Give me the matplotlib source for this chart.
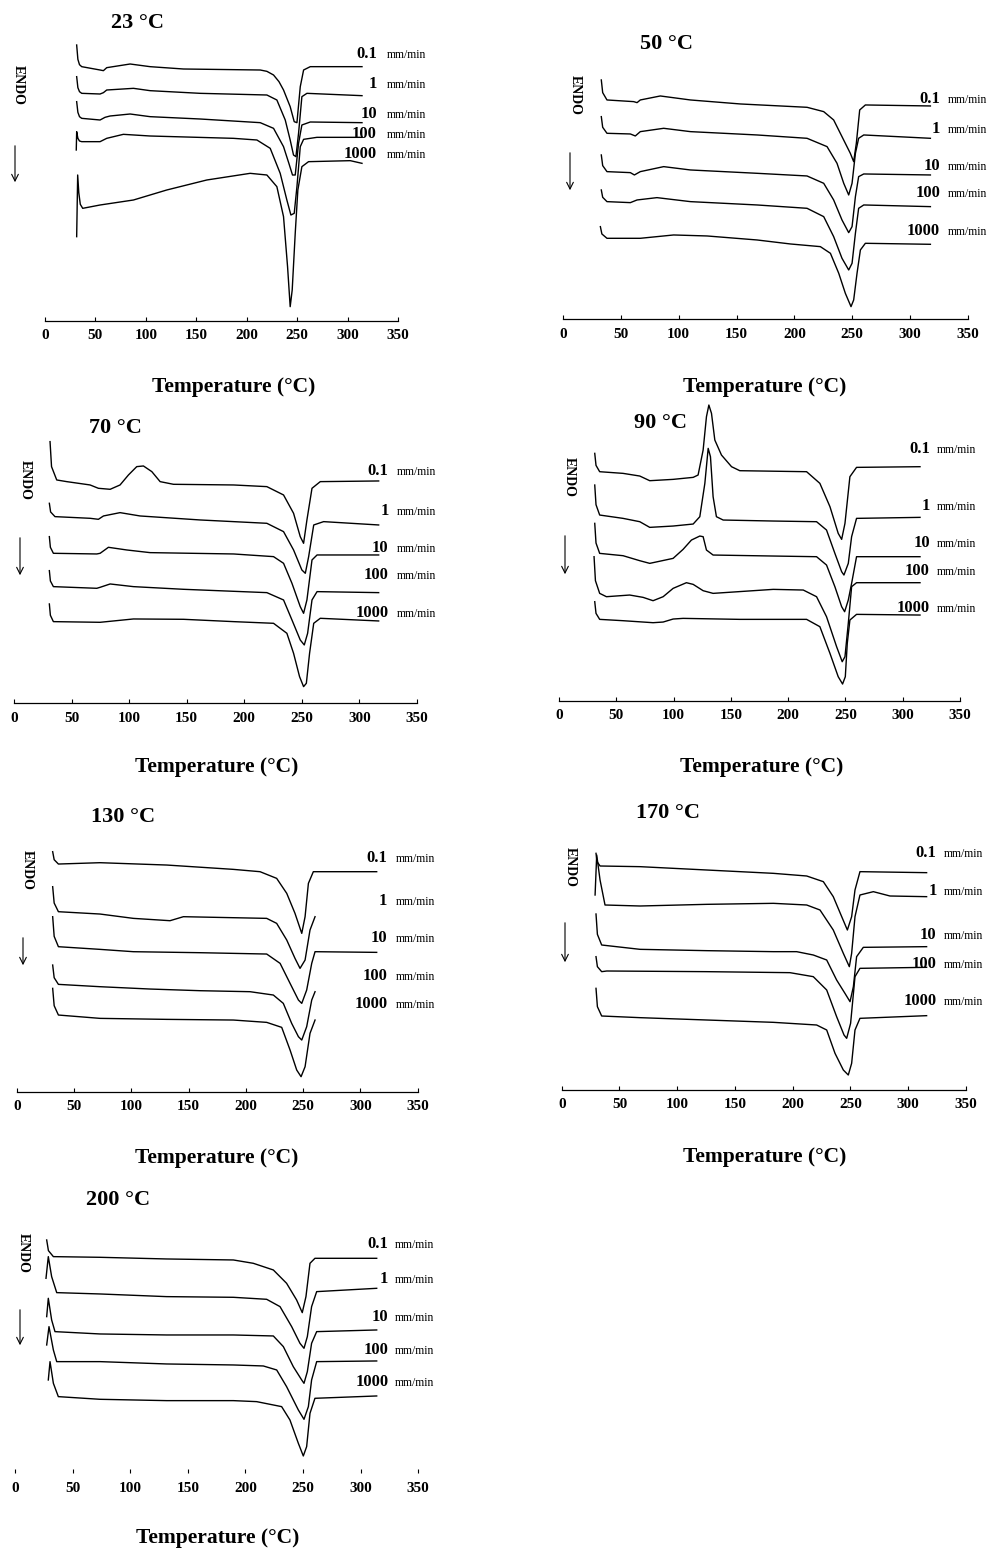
import matplotlib
matplotlib.use('Agg')
import matplotlib.pyplot as plt
import numpy as np

plt.rcParams['font.family'] = ['Liberation Serif', 'DejaVu Serif']

# crosshead rates and annealing temperatures
rates = ['0.1', '1', '10', '100', '1000']
temps = ['23', '50', '70', '90', '130', '170', '200']

# DSC traces: (temperature degC, heat flow a.u.)
# --- 23 C ---
c23_01 = [(31.4, 82.8), (32.6, 78.5), (34.2, 76.9), (36.4, 76.3), (54.6, 75.3), (57.9, 75.1), (61.2, 76.0),
          (84.4, 77.1), (104.2, 76.3), (137.3, 75.6), (213.4, 75.3), (220.0, 74.9), (226.6, 73.8),
          (232.0, 71.8), (236.5, 69.3), (243.1, 64.3), (247.1, 59.8), (249.8, 59.5), (253.1, 70.3),
          (256.4, 75.3), (263.0, 76.3), (314.3, 76.3)]
c23_1 = [(31.4, 73.3), (32.6, 70.0), (34.2, 68.8), (36.4, 68.3), (54.6, 68.1), (57.9, 68.5), (61.2, 69.3),
         (87.7, 69.8), (104.2, 69.1), (153.8, 68.3), (220.0, 67.8), (229.9, 66.3), (238.2, 60.3),
         (243.1, 54.3), (246.4, 49.8), (248.8, 49.3), (251.4, 56.3), (254.7, 67.3), (259.7, 68.3),
         (314.3, 67.6)]
c23_10 = [(31.4, 65.8), (32.6, 62.6), (34.2, 61.3), (36.4, 60.8), (54.6, 60.3), (59.5, 61.1), (64.5, 61.5),
          (84.4, 62.1), (104.2, 61.3), (153.8, 60.6), (213.4, 59.5), (226.6, 57.8), (236.5, 52.3),
          (241.8, 47.3), (245.4, 43.8), (248.1, 43.8), (251.4, 53.3), (254.7, 58.8), (263.0, 59.7),
          (314.3, 59.5)]
c23_100 = [(31.0, 51.3), (31.4, 56.8), (32.6, 54.8), (34.2, 54.0), (36.4, 53.8), (54.6, 53.8), (61.2, 54.8),
           (77.7, 56.0), (104.2, 55.5), (186.9, 54.8), (210.1, 54.3), (223.3, 51.8), (233.2, 44.3),
           (239.8, 36.3), (243.8, 31.8), (247.1, 32.3), (249.8, 40.3), (253.1, 52.3), (256.4, 54.5),
           (269.6, 55.1), (314.3, 55.1)]
c23_1000 = [(31.4, 25.3), (32.4, 43.8), (33.5, 38.5), (35.0, 35.0), (37.4, 33.8), (54.6, 34.8), (87.7, 36.3),
            (120.7, 39.3), (160.4, 42.3), (203.4, 44.3), (220.0, 43.8), (229.9, 40.3), (236.5, 31.3),
            (240.5, 16.3), (243.1, 4.3), (245.1, 9.3), (248.1, 26.3), (250.7, 39.3), (254.7, 46.3),
            (261.3, 47.8), (302.7, 48.1), (314.3, 47.3)]

# --- 50 C ---
c50_01 = [(33.1, 71.8), (34.3, 68.0), (38.0, 65.8), (61.1, 65.3), (64.0, 65.0), (66.8, 65.8), (84.1, 67.0),
          (110.1, 65.8), (153.3, 64.6), (210.9, 63.6), (225.3, 62.3), (233.9, 59.8), (241.1, 54.8),
          (248.3, 49.8), (251.2, 47.3), (253.5, 52.8), (256.4, 62.8), (261.3, 64.3), (317.5, 64.0)]
c50_1 = [(33.1, 60.8), (34.3, 57.6), (38.0, 55.8), (58.2, 55.6), (62.5, 55.0), (66.8, 56.3), (87.0, 57.3),
         (110.1, 56.3), (167.7, 55.3), (210.9, 54.3), (228.2, 51.8), (236.8, 46.8), (242.6, 40.8),
         (246.9, 37.3), (249.8, 40.8), (252.7, 49.8), (255.5, 54.3), (259.9, 55.3), (317.5, 54.3)]
c50_10 = [(33.1, 49.3), (34.3, 46.1), (38.0, 44.3), (58.2, 44.0), (61.7, 43.3), (66.8, 44.3), (87.0, 45.8),
          (110.1, 44.8), (167.7, 43.8), (210.9, 43.0), (225.3, 40.8), (233.9, 35.8), (241.1, 29.8),
          (246.9, 26.0), (249.8, 27.8), (252.7, 36.8), (255.5, 42.8), (259.9, 43.6), (317.5, 43.3)]
c50_100 = [(33.1, 38.8), (34.3, 36.6), (38.0, 35.3), (58.2, 35.0), (64.0, 35.8), (81.2, 36.5), (110.1, 35.3),
           (167.7, 34.3), (210.9, 33.3), (225.3, 30.8), (233.9, 24.8), (241.1, 18.3), (246.9, 14.8),
           (249.8, 16.8), (252.7, 25.8), (255.5, 33.3), (259.9, 34.3), (317.5, 33.8)]
c50_1000 = [(32.3, 27.8), (33.6, 25.6), (38.0, 24.3), (66.8, 24.3), (95.6, 25.3), (124.5, 25.0), (167.7, 23.8),
            (196.5, 22.6), (222.4, 21.8), (231.1, 19.8), (238.3, 13.8), (244.0, 7.8), (248.9, 3.8),
            (251.2, 5.8), (254.1, 13.8), (257.0, 20.8), (261.3, 22.8), (317.5, 22.5)]

# --- 70 C ---
c70_01 = [(31.3, 78.5), (32.6, 71.0), (37.1, 67.0), (45.8, 66.5), (66.1, 65.5), (73.3, 64.5), (83.5, 64.2),
          (92.1, 65.5), (99.4, 68.5), (106.6, 71.0), (112.4, 71.2), (119.7, 69.5), (126.9, 66.5),
          (138.5, 65.7), (190.7, 65.5), (219.6, 65.0), (234.1, 62.5), (242.8, 57.0), (248.6, 50.0),
          (251.5, 48.0), (254.4, 55.0), (258.8, 64.5), (266.0, 66.5), (316.7, 66.7)]
c70_1 = [(30.7, 60.0), (31.8, 57.4), (35.6, 56.0), (66.1, 55.5), (73.3, 55.2), (77.7, 56.2), (92.1, 57.2),
         (109.5, 56.2), (161.7, 55.0), (219.6, 54.0), (234.1, 51.5), (242.8, 46.0), (250.0, 40.0),
         (253.0, 39.0), (255.9, 44.0), (260.3, 53.5), (268.9, 54.5), (316.7, 53.5)]
c70_10 = [(30.7, 50.0), (31.6, 46.8), (34.2, 45.0), (71.9, 44.8), (74.8, 45.0), (82.0, 46.8), (97.9, 46.0),
          (118.2, 45.2), (190.7, 44.8), (225.4, 44.0), (234.1, 42.0), (241.4, 36.0), (248.6, 29.0),
          (251.5, 27.0), (254.4, 31.0), (258.8, 43.0), (263.2, 44.5), (316.7, 44.5)]
c70_100 = [(30.7, 39.8), (31.6, 36.7), (34.2, 35.0), (71.9, 34.5), (74.8, 34.8), (83.5, 35.8), (103.7, 35.0),
           (147.2, 34.2), (219.6, 33.2), (234.1, 31.0), (241.4, 25.0), (248.6, 19.0), (252.1, 17.5),
           (255.0, 21.0), (258.8, 31.0), (263.2, 33.5), (316.7, 33.2)]
c70_1000 = [(30.7, 29.8), (31.6, 26.4), (34.2, 24.5), (74.8, 24.3), (103.7, 25.3), (147.2, 25.2),
            (190.7, 24.5), (225.4, 24.0), (237.0, 21.0), (242.8, 15.0), (248.0, 8.0), (251.5, 5.0),
            (253.9, 6.0), (256.7, 15.0), (260.3, 24.0), (266.0, 25.5), (316.7, 24.7)]

# --- 90 C ---
c90_01 = [(31.2, 74.2), (32.3, 70.6), (35.5, 68.7), (55.9, 68.2), (70.5, 67.4), (79.2, 66.0), (99.6, 66.4),
          (117.1, 67.0), (121.4, 67.7), (125.8, 75.2), (128.7, 85.2), (130.8, 88.7), (133.1, 86.2),
          (136.0, 78.2), (141.8, 73.7), (150.6, 70.2), (157.8, 69.0), (216.1, 68.7), (227.7, 65.2),
          (236.5, 58.2), (243.7, 50.2), (246.7, 48.4), (249.6, 53.2), (253.9, 67.2), (259.7, 70.0),
          (315.1, 70.2)]
c90_1 = [(31.2, 64.7), (32.3, 58.8), (35.5, 55.7), (55.9, 54.7), (70.5, 53.7), (79.2, 52.0), (99.6, 52.4),
         (117.1, 53.0), (122.9, 55.2), (127.3, 65.2), (130.2, 75.7), (132.2, 73.2), (134.5, 61.2),
         (137.4, 55.2), (143.3, 54.2), (187.0, 53.9), (224.8, 53.7), (233.5, 51.2), (240.8, 44.2),
         (246.7, 38.7), (248.7, 37.7), (252.5, 41.2), (255.4, 49.2), (259.7, 54.7), (315.1, 55.0)]
c90_10 = [(31.2, 53.2), (32.3, 47.3), (35.5, 44.2), (55.9, 43.5), (70.5, 42.0), (79.2, 41.2), (99.6, 42.7),
          (108.3, 45.4), (115.6, 48.2), (122.9, 49.4), (125.8, 49.2), (128.7, 45.2), (134.5, 43.7),
          (187.0, 43.4), (224.8, 43.2), (233.5, 40.7), (240.8, 34.2), (246.7, 28.2), (249.3, 26.7),
          (252.5, 30.2), (255.4, 35.2), (259.7, 43.2), (315.1, 43.2)]
c90_100 = [(30.6, 43.2), (31.8, 36.0), (35.5, 32.2), (41.4, 31.2), (61.7, 31.7), (73.4, 31.0), (82.1, 30.0),
           (90.9, 31.2), (99.6, 33.7), (111.2, 35.4), (117.1, 34.9), (125.8, 33.0), (134.5, 32.2),
           (187.0, 33.4), (213.2, 33.2), (224.8, 31.2), (233.5, 25.2), (242.3, 16.2), (247.2, 11.7),
           (249.6, 13.2), (252.5, 23.2), (255.4, 34.2), (259.7, 35.4), (315.1, 35.4)]
c90_1000 = [(31.2, 29.7), (32.3, 26.2), (35.5, 24.4), (55.9, 24.0), (82.1, 23.4), (90.9, 23.6), (99.6, 24.5),
            (108.3, 24.7), (157.8, 24.4), (216.1, 24.4), (227.7, 22.2), (236.5, 14.2), (243.7, 7.2),
            (247.5, 5.0), (249.9, 7.2), (251.6, 17.2), (253.9, 24.2), (259.7, 25.9), (315.1, 25.7)]

# --- 130 C ---
c130_01 = [(31.4, 72.0), (32.7, 69.6), (36.4, 68.3), (72.7, 68.7), (130.9, 68.0), (189.1, 66.7), (212.4, 66.0),
           (226.9, 64.0), (235.7, 59.5), (242.9, 53.5), (248.8, 47.5), (251.7, 52.5), (254.6, 62.5),
           (258.9, 66.0), (314.2, 66.0)]
c130_1 = [(31.4, 61.5), (32.7, 56.6), (36.4, 54.0), (72.7, 53.3), (101.8, 52.0), (133.8, 51.3), (145.5, 52.5),
          (189.1, 52.2), (218.2, 52.0), (226.9, 50.5), (235.7, 45.5), (242.9, 40.0), (247.3, 37.0),
          (251.7, 39.5), (256.0, 48.5), (260.4, 52.5)]
c130_10 = [(31.4, 52.5), (32.7, 46.6), (36.4, 43.5), (72.7, 42.7), (101.8, 42.0), (160.0, 41.7), (218.2, 41.3),
           (229.9, 38.5), (238.6, 32.5), (245.9, 27.5), (248.8, 26.5), (253.1, 30.5), (257.5, 38.5),
           (260.4, 42.0), (314.2, 41.8)]
c130_100 = [(31.4, 38.0), (32.7, 34.2), (36.4, 32.2), (72.7, 31.5), (116.4, 30.8), (160.0, 30.3),
            (203.7, 30.0), (224.0, 29.0), (232.7, 26.5), (240.0, 20.5), (245.9, 16.5), (248.8, 15.5),
            (253.1, 19.5), (257.5, 27.5), (260.4, 30.0)]
c130_1000 = [(31.4, 31.0), (32.7, 25.8), (36.4, 23.0), (72.7, 22.0), (130.9, 21.7), (189.1, 21.5),
             (218.2, 20.8), (231.3, 19.3), (238.6, 12.5), (244.4, 6.5), (248.2, 4.5), (251.7, 7.5),
             (256.0, 17.5), (260.4, 21.5)]

# --- 170 C ---
c170_01 = [(29.7, 71.0), (30.6, 68.5), (33.2, 67.2), (67.8, 67.0), (125.5, 66.0), (183.2, 65.0), (212.1, 64.2),
           (226.5, 62.5), (235.1, 58.0), (242.4, 52.0), (247.3, 48.0), (251.0, 52.0), (253.9, 60.0),
           (258.2, 65.5), (315.9, 65.2)]
c170_1 = [(28.9, 58.5), (30.3, 70.5), (33.2, 63.0), (37.5, 55.5), (67.8, 55.2), (125.5, 55.7), (183.2, 56.0),
          (212.1, 55.5), (223.6, 54.0), (235.1, 48.0), (243.8, 41.0), (249.0, 37.0), (251.0, 41.0),
          (253.9, 52.0), (258.2, 58.5), (269.8, 59.5), (284.2, 58.2), (315.9, 58.0)]
c170_10 = [(29.7, 52.8), (30.9, 46.7), (34.6, 43.5), (67.8, 42.2), (125.5, 41.8), (183.2, 41.5), (203.4, 41.5),
           (217.8, 40.5), (229.4, 39.0), (238.0, 33.0), (245.2, 29.0), (249.6, 26.5), (252.5, 31.0),
           (255.3, 40.0), (261.1, 42.8), (315.9, 43.0)]
c170_100 = [(29.7, 40.0), (30.9, 37.0), (34.6, 35.5), (39.0, 35.7), (125.5, 35.5), (197.6, 35.2), (217.8, 34.0),
            (229.4, 30.0), (238.0, 22.0), (244.4, 16.5), (246.7, 15.5), (250.1, 20.0), (253.9, 34.0),
            (258.2, 36.5), (315.9, 36.8)]
c170_1000 = [(29.7, 30.5), (30.9, 25.0), (34.6, 22.2), (67.8, 21.7), (125.5, 21.0), (183.2, 20.3),
             (220.7, 19.5), (229.4, 18.0), (236.6, 11.0), (243.8, 6.0), (248.1, 4.5), (251.0, 8.0),
             (253.9, 18.0), (258.2, 21.5), (315.9, 22.3)]

# --- 200 C ---
c200_01 = [(27.5, 70.0), (29.0, 66.8), (33.3, 65.0), (73.8, 64.8), (131.6, 64.3), (189.5, 64.0), (206.8, 63.0),
           (224.2, 61.0), (235.7, 57.0), (244.4, 52.0), (249.3, 48.2), (252.5, 53.0), (256.0, 63.0),
           (260.3, 64.5), (313.9, 64.5)]
c200_1 = [(26.9, 58.5), (28.9, 65.0), (31.8, 59.0), (36.2, 54.2), (73.8, 53.8), (131.6, 53.0), (189.5, 52.8),
          (218.4, 52.2), (230.0, 50.0), (240.1, 44.0), (247.3, 39.0), (250.8, 37.5), (253.7, 41.0),
          (257.4, 50.0), (261.8, 54.5), (313.9, 55.5)]
c200_10 = [(27.5, 47.0), (28.9, 52.5), (31.8, 46.0), (34.7, 42.5), (73.8, 41.8), (131.6, 41.5), (189.5, 41.5),
           (224.2, 41.2), (232.9, 38.0), (241.5, 32.0), (248.8, 28.0), (250.8, 27.0), (253.7, 30.5),
           (257.4, 39.0), (261.8, 42.5), (313.9, 43.0)]
c200_100 = [(27.5, 38.5), (29.5, 44.0), (33.3, 37.0), (36.2, 33.5), (73.8, 33.5), (131.6, 32.8), (189.5, 32.5),
            (215.5, 32.2), (227.1, 31.0), (235.7, 26.0), (245.9, 19.0), (250.8, 16.2), (254.6, 20.0),
            (257.4, 28.0), (261.8, 33.5), (313.9, 33.7)]
c200_1000 = [(28.9, 28.0), (30.4, 33.5), (33.3, 27.0), (37.6, 23.0), (73.8, 22.2), (131.6, 21.8), (189.5, 21.8),
             (209.7, 21.5), (231.4, 20.0), (238.6, 16.0), (245.9, 9.0), (250.2, 5.2), (253.1, 8.0),
             (256.0, 18.0), (260.3, 22.5), (313.9, 23.2)]

curves = {
    '23': [c23_01, c23_1, c23_10, c23_100, c23_1000],
    '50': [c50_01, c50_1, c50_10, c50_100, c50_1000],
    '70': [c70_01, c70_1, c70_10, c70_100, c70_1000],
    '90': [c90_01, c90_1, c90_10, c90_100, c90_1000],
    '130': [c130_01, c130_1, c130_10, c130_100, c130_1000],
    '170': [c170_01, c170_1, c170_10, c170_100, c170_1000],
    '200': [c200_01, c200_1, c200_10, c200_100, c200_1000],
}

# placement of each panel in figure pixels
# x0, x350, axis_y, ymax, title(x,y), endo(x,y), arrow(x,ytop,ybot), xlabel(x,y), label heights, num x, mm x
layout = {
    '23': (45, 398, 321, 95, (137, 23), (18, 85), (15, 143, 185), (234, 387),
           [80.3, 71.3, 62.3, 56.3, 50.3], 329, 339),
    '50': (563, 968, 319.3, 90, (666, 44), (575, 95), (570, 150, 193), (765, 387),
           [66.3, 57.3, 46.3, 38.3, 26.8], 326, 332.5),
    '70': (14, 417, 703.3, 92, (115, 428), (25, 480), (20, 535, 578), (217, 767),
           [70.0, 58.0, 47.0, 38.8, 27.5], 325.4, 332.1),
    '90': (559, 960, 700.7, 95, (661, 423), (569, 477), (565, 533, 577), (762, 767),
           [75.7, 58.7, 47.7, 39.2, 28.2], 323.8, 329.6),
    '130': (16.7, 417.7, 1091.7, 90, (123, 817), (27, 870), (23, 935, 968), (217, 1158),
            [70.5, 57.5, 46.5, 35.0, 26.5], 323.5, 331.1),
    '170': (561.7, 966, 1090, 90, (668, 813), (570, 867), (565, 920, 965), (765, 1157),
            [71.5, 60.0, 46.8, 38.2, 27.0], 324.6, 330.9),
    '200': (15, 418.3, 1473.3, 90, (118, 1200), (23, 1253), (20, 1307, 1348), (218, 1538),
            [69.2, 58.5, 47.2, 37.2, 27.7], 324.0, 329.8),
}

W, H = 997, 1550
fig = plt.figure(figsize=(W / 100, H / 100), dpi=100)


def fx(x):
    return x / W


def fy(y):
    return 1 - y / H


for t in temps:
    x0, x350, ay, ymax, tt, en, ar, xl, lab_h, num_x, mm_x = layout[t]
    ax = fig.add_axes([fx(x0), fy(ay), (x350 - x0) / W, ymax * 10 / 3 / H])
    ax.patch.set_alpha(0)
    for c in curves[t]:
        arr = np.array(c)
        ax.plot(arr[:, 0], arr[:, 1], color='k', lw=1.0, solid_joinstyle='round')
    ax.set_xlim(0, 350)
    ax.set_ylim(0, ymax)
    for s in ['top', 'left', 'right']:
        ax.spines[s].set_visible(False)
    ax.spines['bottom'].set_linewidth(0.9)
    if t == '200':
        ax.spines['bottom'].set_visible(False)
    ax.set_yticks([])
    ax.set_xticks(range(0, 351, 50))
    ax.tick_params(axis='x', direction='in', length=3, width=0.8, pad=6, labelsize=11)
    for lbl in ax.get_xticklabels():
        lbl.set_fontweight('bold')

    for r, h in zip(rates, lab_h):
        ax.text(num_x, h - 1.5, r, ha='right', va='baseline', fontsize=12,
                fontweight='bold', clip_on=False)
        ax.text(mm_x, h - 1.5, 'mm/min', ha='left', va='baseline', fontsize=8.5, clip_on=False)

    fig.text(fx(tt[0]), fy(tt[1]), t + ' °C', ha='center', va='center',
             fontsize=16, fontweight='bold')
    fig.text(fx(en[0]), fy(en[1]), 'ENDO', ha='center', va='center', rotation=-90,
             fontsize=10, fontweight='bold')
    ax.annotate('', xy=(fx(ar[0]), fy(ar[2])), xytext=(fx(ar[0]), fy(ar[1])),
                xycoords='figure fraction', textcoords='figure fraction',
                arrowprops=dict(arrowstyle='->', lw=0.8, color='k', mutation_scale=12),
                annotation_clip=False)
    fig.text(fx(xl[0]), fy(xl[1]), 'Temperature (°C)', ha='center', va='center',
             fontsize=15.5, fontweight='bold')

fig.savefig('out.png', dpi=100)
